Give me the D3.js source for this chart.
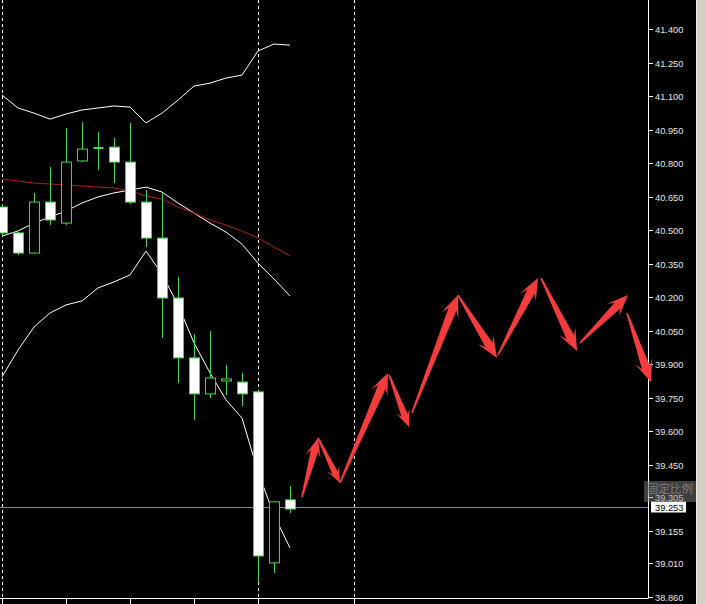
<!DOCTYPE html>
<html>
<head>
<meta charset="utf-8">
<script src="https://cdn.jsdelivr.net/npm/d3@7/dist/d3.min.js"></script>
<style>
  html, body { margin: 0; padding: 0; background: #000; overflow: hidden; }
  svg { display: block; }
</style>
</head>
<body>
<svg id="chart" width="706" height="604"></svg>
<script>
// ---- data ----
const opens  = [40.604, 40.488, 40.398, 40.626, 40.532, 40.810, 40.868, 40.872, 40.805, 40.626, 40.465, 40.197, 39.929, 39.768, 39.826, 39.821, 39.777, 39.012, 39.294];
const highs  = [40.617, 40.492, 40.667, 40.783, 40.957, 40.984, 40.939, 40.913, 40.980, 40.680, 40.667, 40.291, 40.036, 40.049, 39.897, 39.862, 39.780, 39.287, 39.356];
const lows   = [40.474, 40.389, 40.394, 40.523, 40.523, 40.805, 40.769, 40.711, 40.617, 40.425, 40.018, 39.817, 39.651, 39.750, 39.763, 39.714, 38.922, 38.967, 39.235];
const closes = [40.488, 40.398, 40.626, 40.546, 40.805, 40.863, 40.866, 40.805, 40.626, 40.465, 40.197, 39.929, 39.768, 39.839, 39.835, 39.768, 39.043, 39.285, 39.253];

const upperBand  = [41.105, 41.047, 41.024, 40.997, 41.020, 41.038, 41.047, 41.056, 41.051, 40.980, 41.024, 41.082, 41.145, 41.158, 41.181, 41.194, 41.302, 41.333, 41.328];
const middleBand = [40.474, 40.497, 40.532, 40.559, 40.586, 40.622, 40.649, 40.667, 40.680, 40.693, 40.671, 40.622, 40.577, 40.532, 40.492, 40.438, 40.353, 40.282, 40.206];
const lowerBand  = [39.844, 39.964, 40.067, 40.130, 40.166, 40.184, 40.242, 40.269, 40.300, 40.407, 40.304, 40.166, 39.996, 39.862, 39.741, 39.660, 39.419, 39.226, 39.079];
const redMA      = [40.729, 40.720, 40.711, 40.707, 40.702, 40.698, 40.693, 40.689, 40.676, 40.653, 40.640, 40.604, 40.577, 40.546, 40.523, 40.497, 40.465, 40.425, 40.385];

// arrows: start (bar index, price) -> end (bar index, price)
const arrowStartIdx   = [18.75, 19.75, 21.125, 24.19, 25.625, 28.5, 31.0, 33.69, 36.125, 39.06];
const arrowStartPrice = [39.307, 39.571, 39.370, 39.853, 39.683, 40.210, 39.942, 40.286, 39.996, 40.130];
const arrowEndIdx     = [19.75, 21.125, 24.125, 25.44, 28.5, 30.94, 33.5, 35.94, 39.125, 40.56];
const arrowEndPrice   = [39.571, 39.370, 39.862, 39.620, 40.210, 39.929, 40.286, 39.960, 40.210, 39.821];

const priceTicks = ["41.400","41.250","41.100","40.950","40.800","40.650","40.500","40.350","40.200","40.050","39.900","39.750","39.600","39.450","39.305","39.155","39.010","38.860"];
const timeTickIdx = [0, 4, 8, 12, 16, 22];
const separatorIdx = [0, 16, 22];
const currentPrice = 39.253;
const scaleHint = "固定比例";

// ---- layout ----
const W = 706, H = 604;
const plotRight = 648, plotBottom = 598;
const svg = d3.select("#chart");
svg.append("rect").attr("width", W).attr("height", H).attr("fill", "#000");

const x = d3.scaleLinear().domain([0, 40]).range([2, 642]);
const y = d3.scaleLinear().domain([38.855, 41.530]).range([plotBottom, 0]);

// separators
svg.append("g").selectAll("line").data(separatorIdx).join("line")
  .attr("x1", d => Math.round(x(d)) + 0.5).attr("x2", d => Math.round(x(d)) + 0.5)
  .attr("y1", 0).attr("y2", plotBottom)
  .attr("stroke", "#fff").attr("stroke-width", 1).attr("stroke-dasharray", "3,3");

// current price line
const cpY = Math.round(y(currentPrice)) - 1.5;
svg.append("line")
  .attr("x1", 0).attr("x2", plotRight)
  .attr("y1", cpY).attr("y2", cpY)
  .attr("stroke", "#7f869a").attr("stroke-width", 1);

// indicator lines
const lineGen = arr => d3.line().x((d, i) => x(i)).y(d => y(d))(arr);
[[upperBand, "#fff"], [middleBand, "#fff"], [lowerBand, "#fff"], [redMA, "#b3191c"]].forEach(([arr, c]) => {
  svg.append("path").attr("d", lineGen(arr)).attr("fill", "none")
    .attr("stroke", c).attr("stroke-width", 1);
});

// candles
const green = "#44d644";
const cg = svg.append("g");
opens.forEach((o, i) => {
  const c = closes[i], h = highs[i], l = lows[i];
  const cx = Math.round(x(i)) + 0.5;
  const top = Math.min(y(o), y(c)), bot = Math.max(y(o), y(c));
  cg.append("line").attr("x1", cx).attr("x2", cx).attr("y1", y(h)).attr("y2", top)
    .attr("stroke", green).attr("stroke-width", 1);
  cg.append("line").attr("x1", cx).attr("x2", cx).attr("y1", bot).attr("y2", y(l))
    .attr("stroke", green).attr("stroke-width", 1);
  const bear = c < o;
  const bh = Math.max(bot - top, 1);
  if (bh <= 2) {
    cg.append("line").attr("x1", cx - 5).attr("x2", cx + 5).attr("y1", top).attr("y2", top)
      .attr("stroke", green).attr("stroke-width", 2);
  } else {
    cg.append("rect").attr("x", cx - 5).attr("y", top).attr("width", 10).attr("height", bh)
      .attr("fill", bear ? "#fff" : "#000").attr("stroke", green).attr("stroke-width", 1);
  }
});

// axis lines
svg.append("line").attr("x1", plotRight + 0.5).attr("x2", plotRight + 0.5).attr("y1", 0).attr("y2", plotBottom + 0.5)
  .attr("stroke", "#fff");
svg.append("line").attr("x1", 0).attr("x2", plotRight + 0.5).attr("y1", plotBottom + 0.5).attr("y2", plotBottom + 0.5)
  .attr("stroke", "#fff");

// bottom ticks
svg.append("g").selectAll("line").data(timeTickIdx).join("line")
  .attr("x1", d => Math.round(x(d)) + 0.5).attr("x2", d => Math.round(x(d)) + 0.5)
  .attr("y1", plotBottom).attr("y2", H).attr("stroke", "#fff");

// right axis
const ya = svg.append("g");
priceTicks.forEach(t => {
  const v = +t, yy = Math.round(y(v)) + 0.5;
  ya.append("line").attr("x1", plotRight).attr("x2", plotRight + 5).attr("y1", yy).attr("y2", yy).attr("stroke", "#fff");
  ya.append("text").attr("x", plotRight + 7).attr("y", yy).attr("dy", "0.35em")
    .attr("fill", "#e6e6e6").attr("font-family", "Liberation Sans, Arial, sans-serif")
    .attr("font-size", 9.3).text(t);
});

// arrows
const ag = svg.append("g");
arrowStartIdx.forEach((si, i) => {
  const sx = x(si), sy = y(arrowStartPrice[i]);
  const ex = x(arrowEndIdx[i]), ey = y(arrowEndPrice[i]);
  const dx = ex - sx, dy = ey - sy, len = Math.hypot(dx, dy);
  const ux = dx / len, uy = dy / len, nx = -uy, ny = ux;
  const k = Math.min(1, len / 70);
  const h = 22 * k, hw = 9 * k, sw = 4.2 * k, tw = 0.8;
  const nbx = ex - ux * h * 0.7, nby = ey - uy * h * 0.7;
  const bbx = ex - ux * h, bby = ey - uy * h;
  const pts = [
    [sx + nx * tw, sy + ny * tw],
    [nbx + nx * sw, nby + ny * sw],
    [bbx + nx * hw, bby + ny * hw],
    [ex, ey],
    [bbx - nx * hw, bby - ny * hw],
    [nbx - nx * sw, nby - ny * sw],
    [sx - nx * tw, sy - ny * tw]
  ];
  ag.append("polygon").attr("points", pts.map(p => p.join(",")).join(" "))
    .attr("fill", "#f53c3c");
});

// current price label
svg.append("rect").attr("x", 651).attr("y", cpY - 6).attr("width", 35).attr("height", 11).attr("fill", "#fff");
svg.append("text").attr("x", 655).attr("y", cpY).attr("dy", "0.35em")
  .attr("fill", "#000").attr("font-family", "Liberation Sans, Arial, sans-serif")
  .attr("font-size", 9.3).text(currentPrice.toFixed(3));

// scale hint overlay (semi-transparent, over the 39.305 label as in the reference)
svg.append("rect").attr("x", 644).attr("y", 481).attr("width", 53).attr("height", 21)
  .attr("fill", "#8a8a8a").attr("opacity", 0.45);
svg.append("text").attr("x", 670).attr("y", 493).attr("text-anchor", "middle")
  .attr("fill", "#8c8c8c").attr("opacity", 0.8)
  .attr("font-family", "Noto Sans CJK SC, sans-serif").attr("font-size", 11.5).text(scaleHint);

// right gray frame
svg.append("rect").attr("x", 696).attr("y", 0).attr("width", 10).attr("height", H).attr("fill", "#d4d0c8");
svg.append("line").attr("x1", 696.5).attr("x2", 696.5).attr("y1", 0).attr("y2", H).attr("stroke", "#f0f0f0");
</script>
</body>
</html>
